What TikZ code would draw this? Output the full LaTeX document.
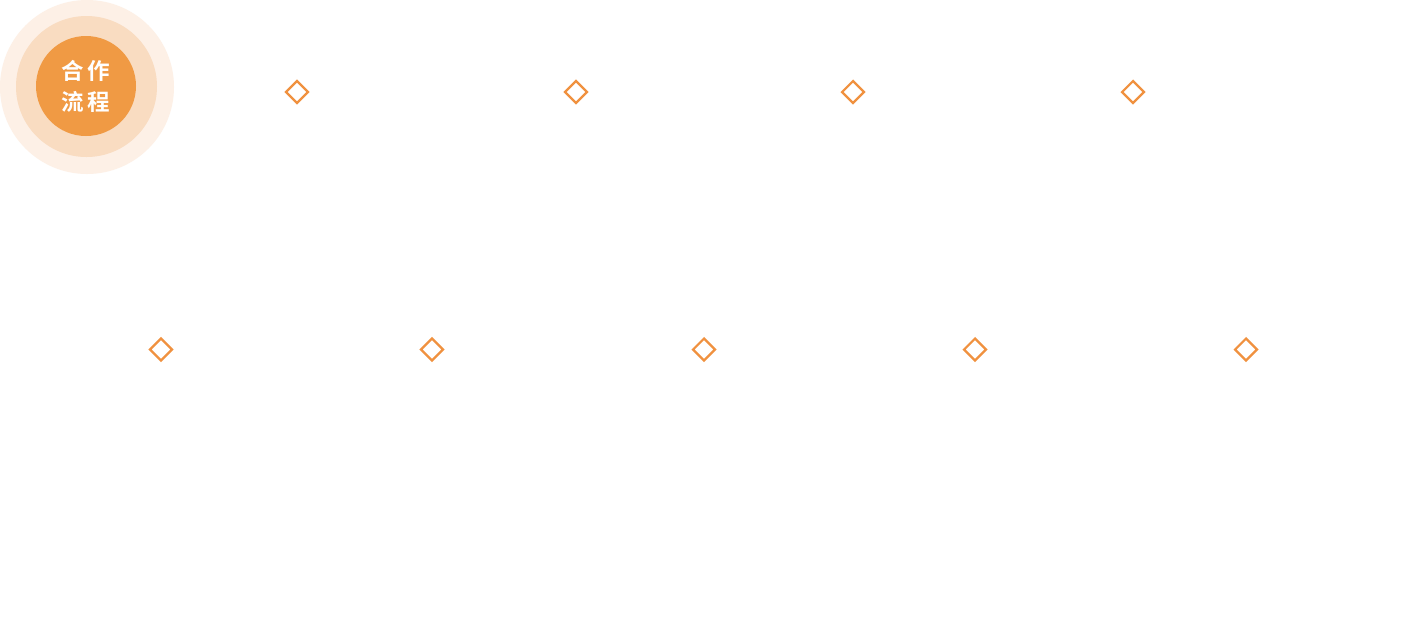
\documentclass[tikz,border=0pt]{standalone}
\usepackage{fontspec}
\newfontfamily\cjk{Noto Sans CJK SC}[BoldFont={Noto Sans CJK SC Bold}]
\definecolor{ringA}{HTML}{FDF0E6}
\definecolor{ringB}{HTML}{F9DCC1}
\definecolor{core}{HTML}{F09A44}
\definecolor{dia}{HTML}{F0913F}
\tikzset{
  mark diamond/.style={draw=dia, line width=2.2pt, fill=white, shape=rectangle, minimum size=15.5pt, inner sep=0pt, rotate=45},
}
\begin{document}
\begin{tikzpicture}[x=1pt,y=-1pt]
\useasboundingbox[fill=white] (0,0) rectangle (1421,625);
\fill[ringA] (87,87) circle (87);
\fill[ringB] (86.5,86.5) circle (70.5);
\fill[core] (86,86) circle (50);
\node[text=white, font=\cjk\bfseries\fontsize{22.5}{31}\selectfont, align=center, inner sep=0pt] (title) at (86,86) {合\hspace{3.5pt}作\\流\hspace{3.5pt}程};
\foreach \x [count=\i] in {297,576,853,1133} {
  \node[mark diamond] (t\i) at (\x,92) {};
}
\foreach \x [count=\i] in {161,432,704,975,1246} {
  \node[mark diamond] (b\i) at (\x,349.5) {};
}
\end{tikzpicture}
\end{document}
